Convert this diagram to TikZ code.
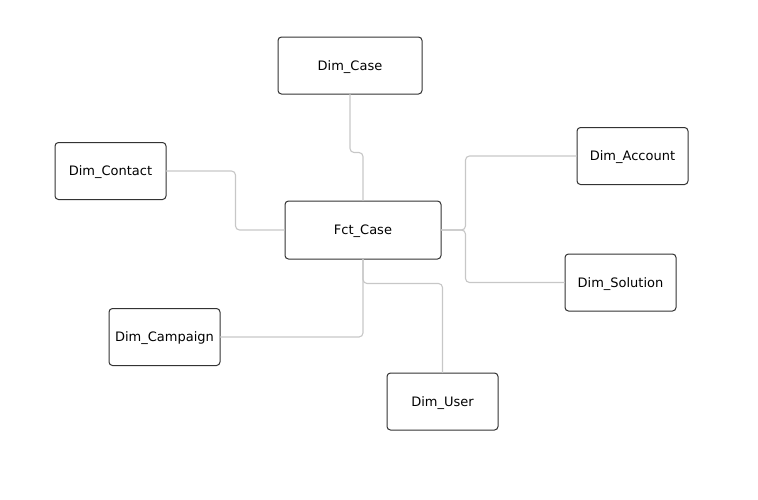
\documentclass[tikz,border=0pt]{standalone}
\usepackage{fontspec}
\setmainfont{DejaVu Sans}
\usetikzlibrary{calc}

\begin{document}
\begin{tikzpicture}[
    x=1pt,
    y=-1pt,
    line join=round,
    line cap=round,
    tbl/.style={draw=black!80,line width=1pt,rounded corners=3.5pt,fill=white,
        minimum width=111pt,minimum height=57pt,inner sep=0pt,text depth=0pt,
        font=\fontsize{13}{15}\selectfont},
    lnk/.style={draw=black!22,line width=1.1pt,rounded corners=4pt}
]
\useasboundingbox (0,0) rectangle (758,499);
% 表
\node[tbl,minimum width=144pt] (DimCase) at (350,65.5) {Dim\_Case};
\node[tbl] (DimContact) at (110.5,171) {Dim\_Contact};
\node[tbl,minimum width=156pt,minimum height=58pt] (FctCase) at (363,230) {Fct\_Case};
\node[tbl] (DimAccount) at (632.5,156) {Dim\_Account};
\node[tbl] (DimSolution) at (620.5,282.5) {Dim\_Solution};
\node[tbl] (DimCampaign) at (164.5,337) {Dim\_Campaign};
\node[tbl] (DimUser) at (442.5,401.5) {Dim\_User};

% 连线
\draw[lnk] (DimCase.south) -- ++(0,58) -| (FctCase.north);
\draw[lnk] (DimContact.east) -- ++(69,0) |- (FctCase.west);
\draw[lnk] (FctCase.east) -- ++(24,0) |- (DimAccount.west);
\draw[lnk] (FctCase.east) -- ++(24,0) |- (DimSolution.west);
\draw[lnk] (FctCase.south) |- (DimCampaign.east);
\draw[lnk] (FctCase.south) -- ++(0,24) -| (DimUser.north);

\end{tikzpicture}
\end{document}
